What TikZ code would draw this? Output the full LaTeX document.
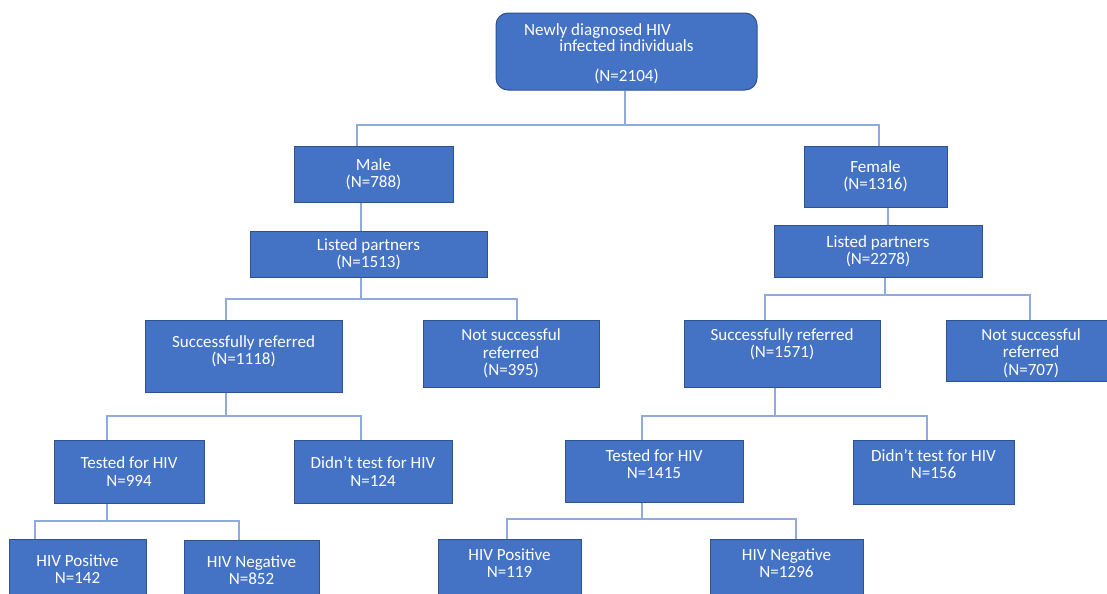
\documentclass[tikz,border=0pt]{standalone}
\usepackage{fontspec}
\setmainfont{Carlito}

\definecolor{boxfill}{HTML}{4472C4}
\definecolor{boxline}{HTML}{2F528F}
\definecolor{linkcol}{HTML}{8FAADC}

\tikzset{
  box/.style={draw=boxline, fill=boxfill, line width=0.75pt, inner sep=0pt},
  sz/.style 2 args={minimum width=#1*0.75pt, minimum height=#2*0.75pt},
  txt/.style={text=white, font=\fontsize{12.8}{13}\selectfont, align=center, inner sep=0pt},
  link/.style={draw=linkcol, line width=0.9pt}
}

\begin{document}
\begin{tikzpicture}[x=0.75pt, y=-0.75pt]

\useasboundingbox (0,0) rectangle (1107,593);

% --- Index cases (top box) ---
\node[box, sz={261}{77}, rounded corners=9pt,
  label={[txt, yshift=-1.9pt]center:{Newly diagnosed HIV\hspace*{43.5pt}\\[-1pt]infected individuals\\[9.5pt](N=2104)}}]
  (root) at (626.5,51.5) {};

% --- Split by sex ---
\node[box, sz={159}{56}, label={[txt]center:{Male\\(N=788)}}] (male) at (373.5,174) {};
\node[box, sz={143}{61}, label={[txt]center:{Female\\(N=1316)}}] (female) at (875.5,176.5) {};

% --- Listed partners ---
\node[box, sz={237}{46}, label={[txt]center:{Listed partners\\(N=1513)}}] (lpm) at (368.5,254) {};
\node[box, sz={208}{52}, label={[txt]center:{Listed partners\\(N=2278)}}] (lpf) at (878,251) {};

% --- Referral outcome ---
\node[box, sz={197}{72}, label={[txt, yshift=3.75pt]center:{Successfully referred\\(N=1118)}}] (srm) at (243.5,356) {};
\node[box, sz={176}{67}, label={[txt]center:{Not successful\\referred\\(N=395)}}] (nsm) at (511,353.5) {};
\node[box, sz={196}{67}, label={[txt, yshift=7.1pt]center:{Successfully referred\\(N=1571)}}] (srf) at (782,353.5) {};
\node[box, sz={170}{61}, label={[txt, yshift=-1.9pt]center:{Not successful\\referred\\(N=707)}}] (nsf) at (1031,350.5) {};

% --- Testing ---
\node[box, sz={150}{63}, label={[txt]center:{Tested for HIV\\N=994}}] (tm) at (129,471.5) {};
\node[box, sz={158}{63}, label={[txt]center:{Didn’t test for HIV\\N=124}}] (dm) at (373,471.5) {};
\node[box, sz={178}{62}, label={[txt, yshift=5.25pt]center:{Tested for HIV\\N=1415}}] (tf) at (654,471) {};
\node[box, sz={161}{64}, label={[txt, yshift=6pt]center:{Didn’t test for HIV\\N=156}}] (df) at (933.5,472) {};

% --- Test results (cut by the bottom edge) ---
\node[box, sz={137}{60}, label={[txt]center:{HIV Positive\\N=142}}] (pm) at (77.5,569) {};
\node[box, sz={135}{60}, label={[txt]center:{HIV Negative\\N=852}}] (nm) at (251.5,570) {};
\node[box, sz={143}{60}, label={[txt, yshift=4.5pt]center:{HIV Positive\\N=119}}] (pf) at (509.5,569) {};
\node[box, sz={153}{60}, label={[txt, yshift=4.5pt]center:{HIV Negative\\N=1296}}] (nf) at (786.5,569) {};

% --- Elbow connectors ---
\draw[link] (625,0 |- root.south) -- (625,125) coordinate (j0);
\draw[link] (j0) -| (357,0 |- male.north);
\draw[link] (j0) -| (879,0 |- female.north);

\draw[link] (361,0 |- male.south) -- (361,0 |- lpm.north);
\draw[link] (888,0 |- female.south) -- (888,0 |- lpf.north);

\draw[link] (361,0 |- lpm.south) -- (361,299) coordinate (j1);
\draw[link] (j1) -| (226,0 |- srm.north);
\draw[link] (j1) -| (517,0 |- nsm.north);
\draw[link] (885,0 |- lpf.south) -- (885,295) coordinate (j2);
\draw[link] (j2) -| (765,0 |- srf.north);
\draw[link] (j2) -| (1030,0 |- nsf.north);

\draw[link] (226,0 |- srm.south) -- (226,416) coordinate (j3);
\draw[link] (j3) -| (107,0 |- tm.north);
\draw[link] (j3) -| (361,0 |- dm.north);
\draw[link] (775,0 |- srf.south) -- (775,416) coordinate (j4);
\draw[link] (j4) -| (642,0 |- tf.north);
\draw[link] (j4) -| (927,0 |- df.north);

\draw[link] (107,0 |- tm.south) -- (107,521) coordinate (j5);
\draw[link] (j5) -| (35,0 |- pm.north);
\draw[link] (j5) -| (239,0 |- nm.north);
\draw[link] (642,0 |- tf.south) -- (642,519) coordinate (j6);
\draw[link] (j6) -| (507,0 |- pf.north);
\draw[link] (j6) -| (796,0 |- nf.north);

\end{tikzpicture}
\end{document}
